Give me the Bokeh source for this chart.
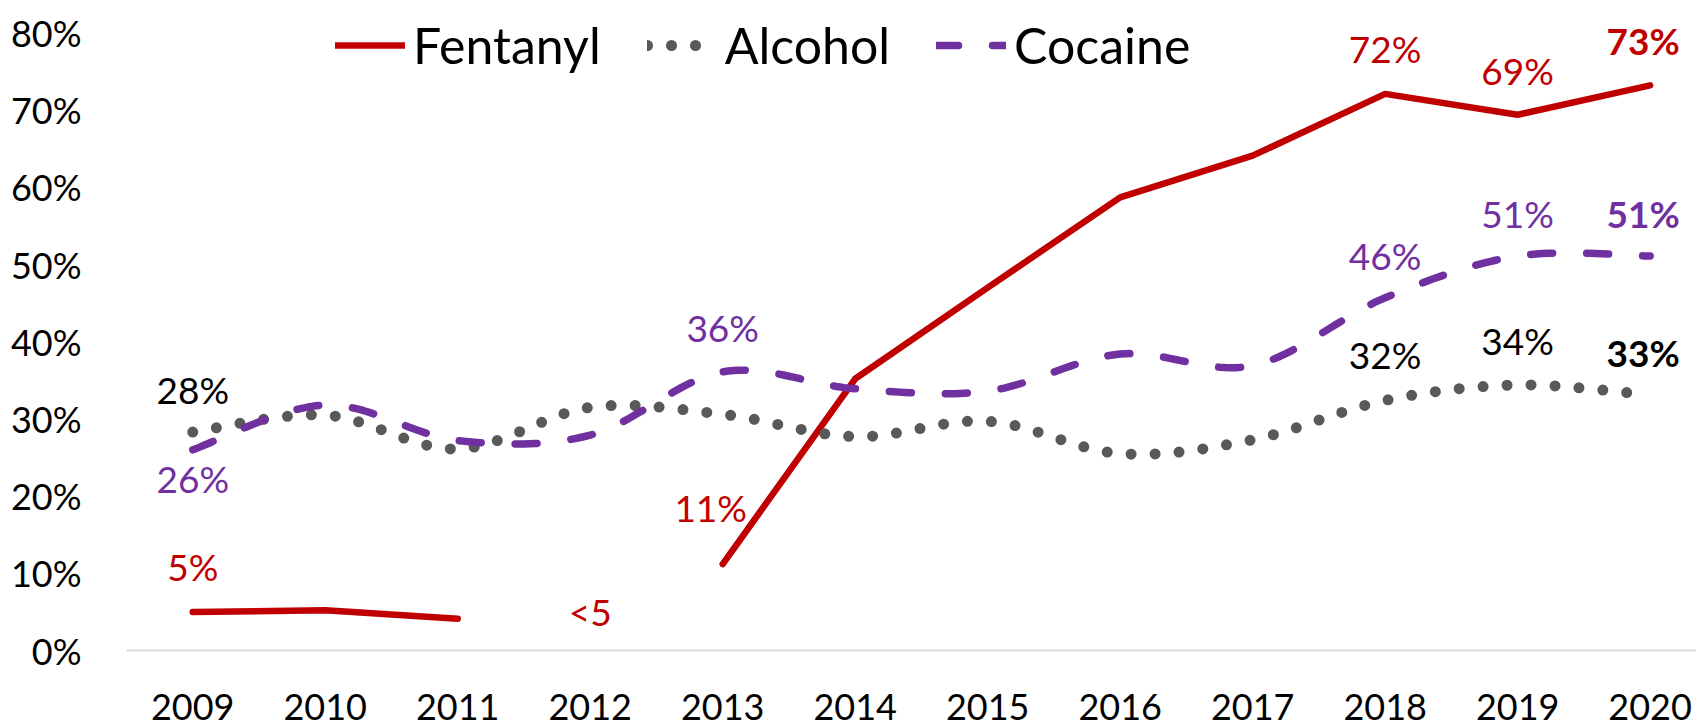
import numpy as np
from bokeh.plotting import figure
from bokeh.models import Range1d, FixedTicker, Legend, LegendItem, PrintfTickFormatter
from bokeh.core.properties import value
from bokeh.embed import file_html
from bokeh.resources import INLINE

# ---------------- data ----------------
years = ["2009", "2010", "2011", "2012", "2013", "2014", "2015", "2016", "2017", "2018", "2019", "2020"]
fentanyl = [5.0, 5.2, 4.1, None, 11.2, 35.2, 47.0, 58.7, 64.1, 72.1, 69.4, 73.2]
alcohol = [28.3, 30.5, 26.1, 31.5, 30.6, 27.7, 29.7, 25.5, 27.3, 32.4, 34.4, 33.1]
cocaine = [26.0, 31.8, 27.2, 27.9, 36.1, 33.9, 33.6, 38.4, 36.9, 45.7, 51.1, 51.1]
y_ticks = [0, 10, 20, 30, 40, 50, 60, 70, 80]
fentanyl_suppressed_label = "<5"
fentanyl_suppressed_level = 5

RED = "#C00000"
GRAY = "#595959"
PURPLE = "#7030A0"
FONT = "Lato"

x_idx = np.arange(len(years), dtype=float)


def smooth(xs, ys, n=24):
    """Excel-style smoothed line (Catmull-Rom Bezier through the data points)."""
    xs = np.asarray(xs, float)
    ys = np.asarray(ys, float)
    P = np.column_stack([xs, ys])
    out = []
    m = len(P)
    for i in range(m - 1):
        p0 = P[i - 1] if i > 0 else P[i]
        p1 = P[i]
        p2 = P[i + 1]
        p3 = P[i + 2] if i + 2 < m else P[i + 1]
        c1 = p1 + (p2 - p0) / 6.0
        c2 = p2 - (p3 - p1) / 6.0
        t = np.linspace(0, 1, n, endpoint=(i == m - 2))[:, None]
        seg = ((1 - t) ** 3) * p1 + 3 * ((1 - t) ** 2) * t * c1 + 3 * (1 - t) * t ** 2 * c2 + t ** 3 * p2
        out.append(seg)
    arr = np.vstack(out)
    return arr[:, 0], arr[:, 1]


p = figure(
    width=1696, height=723,
    x_range=Range1d(-0.5, 11.35), y_range=Range1d(0, 84.2),
    output_backend="svg", toolbar_location=None,
    min_border_left=126, min_border_right=0, min_border_top=0, min_border_bottom=73,
)
p.outline_line_color = None
p.grid.grid_line_color = None
p.background_fill_color = "white"
p.border_fill_color = "white"

# axes
p.xaxis.ticker = FixedTicker(ticks=list(x_idx))
p.xaxis.major_label_overrides = {i: y for i, y in enumerate(years)}
p.xaxis.axis_line_color = "#D9D9D9"
p.xaxis.axis_line_width = 2
p.xaxis.major_tick_line_color = None
p.xaxis.minor_tick_line_color = None
p.xaxis.major_tick_out = 0
p.xaxis.major_label_standoff = 43
p.yaxis.ticker = FixedTicker(ticks=y_ticks)
p.yaxis.formatter = PrintfTickFormatter(format="%d%%")
p.yaxis.axis_line_color = None
p.yaxis.major_tick_line_color = None
p.yaxis.minor_tick_line_color = None
p.yaxis.major_tick_out = 0
p.yaxis.major_label_standoff = 45
for ax in (p.xaxis[0], p.yaxis[0]):
    ax.major_label_text_font = FONT
    ax.major_label_text_font_size = "36px"
    ax.major_label_text_color = "black"

# lines
ax_, ay_ = smooth(x_idx, alcohol)
cx_, cy_ = smooth(x_idx, cocaine)
fy = np.array([np.nan if v is None else v for v in fentanyl], float)

r_fen = p.line(x_idx, fy, line_color=RED, line_width=6.5, line_cap="round", line_join="round")
r_alc = p.line(ax_, ay_, line_color=GRAY, line_width=11, line_dash="0 24", line_cap="round", line_join="round")
r_coc = p.line(cx_, cy_, line_color=PURPLE, line_width=7.5, line_dash="22 34", line_cap="round", line_join="round")

# data labels
def lab(x, y, text, color, dx=0, dy=-44, bold=False):
    p.text(x=[x], y=[y], text=[text], x_offset=dx, y_offset=dy,
           text_align="center", text_baseline="middle",
           text_font=value(FONT), text_font_size="37px",
           text_font_style="bold" if bold else "normal", text_color=color)

pct = lambda v: f"{round(v)}%"
lab(0, alcohol[0], pct(alcohol[0]), "black", dy=-43)
lab(0, cocaine[0], pct(cocaine[0]), PURPLE, dy=29)
lab(0, fentanyl[0], pct(fentanyl[0]), RED, dy=-45)
lab(3, fentanyl_suppressed_level, fentanyl_suppressed_label, RED, dy=0)
lab(4, fentanyl[4], pct(fentanyl[4]), RED, dx=-12, dy=-57)
lab(4, cocaine[4], pct(cocaine[4]), PURPLE, dy=-44)
lab(9, fentanyl[9], pct(fentanyl[9]), RED, dy=-45)
lab(10, fentanyl[10], pct(fentanyl[10]), RED, dy=-44)
lab(11, fentanyl[11], pct(fentanyl[11]), RED, dx=-7, dy=-45, bold=True)
lab(9, cocaine[9], pct(cocaine[9]), PURPLE, dy=-42)
lab(10, cocaine[10], pct(cocaine[10]), PURPLE, dy=-43)
lab(11, cocaine[11], pct(cocaine[11]), PURPLE, dx=-7, dy=-43, bold=True)
lab(9, alcohol[9], pct(alcohol[9]), "black", dy=-46)
lab(10, alcohol[10], pct(alcohol[10]), "black", dy=-44)
lab(11, alcohol[11], pct(alcohol[11]), "black", dx=-7, dy=-42, bold=True)

legend = Legend(
    items=[LegendItem(label="Fentanyl", renderers=[r_fen]),
           LegendItem(label="Alcohol", renderers=[r_alc]),
           LegendItem(label="Cocaine", renderers=[r_coc])],
    orientation="horizontal", location=(209, 575),
    label_text_font=FONT, label_text_font_size="50px", label_text_color="black",
    glyph_width=70, glyph_height=40, label_height=40, label_standoff=8, spacing=46,
    padding=0, margin=0, border_line_color=None, background_fill_alpha=0,
)
p.add_layout(legend)

open("out.html", "w").write(file_html(p, INLINE))
